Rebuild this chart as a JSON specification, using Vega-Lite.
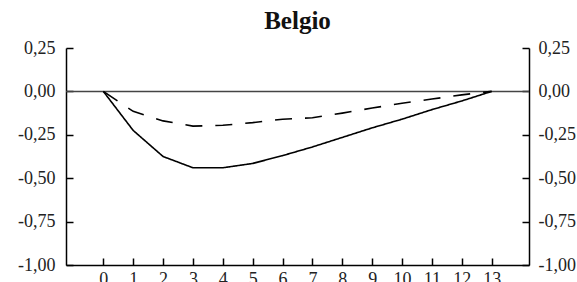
{
  "$schema": "https://vega.github.io/schema/vega-lite/v6.json",
  "autosize": {"type": "none"},
  "width": 463,
  "height": 217,
  "padding": {"left": 66, "top": 48, "right": 48, "bottom": 17},
  "background": "white",
  "title": {
    "text": "Belgio",
    "font": "Liberation Serif",
    "fontSize": 25,
    "fontWeight": "bold",
    "color": "#111",
    "anchor": "middle",
    "baseline": "alphabetic",
    "offset": 8,
    "dy": 23
  },
  "config": {
    "font": "Liberation Serif",
    "title": {"font": "Liberation Serif"},
    "view": {"stroke": null},
    "axis": {
      "grid": false,
      "domainColor": "#000",
      "domainWidth": 1.5,
      "tickColor": "#000",
      "tickWidth": 1.5,
      "tickSize": -7,
      "labelFont": "Liberation Serif",
      "labelFontSize": 18,
      "labelColor": "#222",
      "title": null
    }
  },
  "layer": [
    {
      "data": {"values": [{"z": 0}]},
      "mark": {"type": "rule", "color": "#444", "strokeWidth": 1.5},
      "encoding": {
        "y": {
          "field": "z",
          "type": "quantitative",
          "scale": {"domain": [-1, 0.25], "nice": false, "zero": false},
          "axis": {
            "orient": "left",
            "values": [0.25, 0, -0.25, -0.5, -0.75, -1],
            "labelPadding": 18,
            "labelExpr": "replace(replace(format(datum.value, '.2f'), '.', ','), '\u2212', '-')"
          }
        }
      }
    },
    {
      "data": {
        "values": [
          {"t": 0, "v": 0, "s": "Serie 1"},
          {"t": 1, "v": -0.225, "s": "Serie 1"},
          {"t": 2, "v": -0.375, "s": "Serie 1"},
          {"t": 3, "v": -0.44, "s": "Serie 1"},
          {"t": 4, "v": -0.44, "s": "Serie 1"},
          {"t": 5, "v": -0.415, "s": "Serie 1"},
          {"t": 6, "v": -0.37, "s": "Serie 1"},
          {"t": 7, "v": -0.32, "s": "Serie 1"},
          {"t": 8, "v": -0.265, "s": "Serie 1"},
          {"t": 9, "v": -0.21, "s": "Serie 1"},
          {"t": 10, "v": -0.16, "s": "Serie 1"},
          {"t": 11, "v": -0.105, "s": "Serie 1"},
          {"t": 12, "v": -0.055, "s": "Serie 1"},
          {"t": 13, "v": 0, "s": "Serie 1"},
          {"t": 0, "v": 0, "s": "Serie 2"},
          {"t": 1, "v": -0.115, "s": "Serie 2"},
          {"t": 2, "v": -0.17, "s": "Serie 2"},
          {"t": 3, "v": -0.2, "s": "Serie 2"},
          {"t": 4, "v": -0.195, "s": "Serie 2"},
          {"t": 5, "v": -0.18, "s": "Serie 2"},
          {"t": 6, "v": -0.16, "s": "Serie 2"},
          {"t": 7, "v": -0.152, "s": "Serie 2"},
          {"t": 8, "v": -0.125, "s": "Serie 2"},
          {"t": 9, "v": -0.096, "s": "Serie 2"},
          {"t": 10, "v": -0.068, "s": "Serie 2"},
          {"t": 11, "v": -0.044, "s": "Serie 2"},
          {"t": 12, "v": -0.02, "s": "Serie 2"},
          {"t": 13, "v": 0, "s": "Serie 2"}
        ]
      },
      "mark": {"type": "line", "color": "#000", "strokeWidth": 1.6},
      "encoding": {
        "x": {
          "field": "t",
          "type": "quantitative",
          "scale": {"domain": [-1.25, 14.25], "nice": false, "zero": false},
          "axis": {
            "orient": "bottom",
            "values": [0, 1, 2, 3, 4, 5, 6, 7, 8, 9, 10, 11, 12, 13],
            "labelPadding": 12,
            "labelFlush": false,
            "labelOverlap": false
          }
        },
        "y": {
          "field": "v",
          "type": "quantitative",
          "axis": {
            "orient": "right",
            "values": [0.25, 0, -0.25, -0.5, -0.75, -1],
            "labelPadding": 16,
            "labelExpr": "replace(replace(format(datum.value, '.2f'), '.', ','), '\u2212', '-')"
          }
        },
        "strokeDash": {
          "field": "s",
          "type": "nominal",
          "scale": {"domain": ["Serie 1", "Serie 2"], "range": [[1, 0], [17, 13]]},
          "legend": null
        },
        "detail": {"field": "s"}
      }
    }
  ],
  "resolve": {"axis": {"y": "independent"}}
}
